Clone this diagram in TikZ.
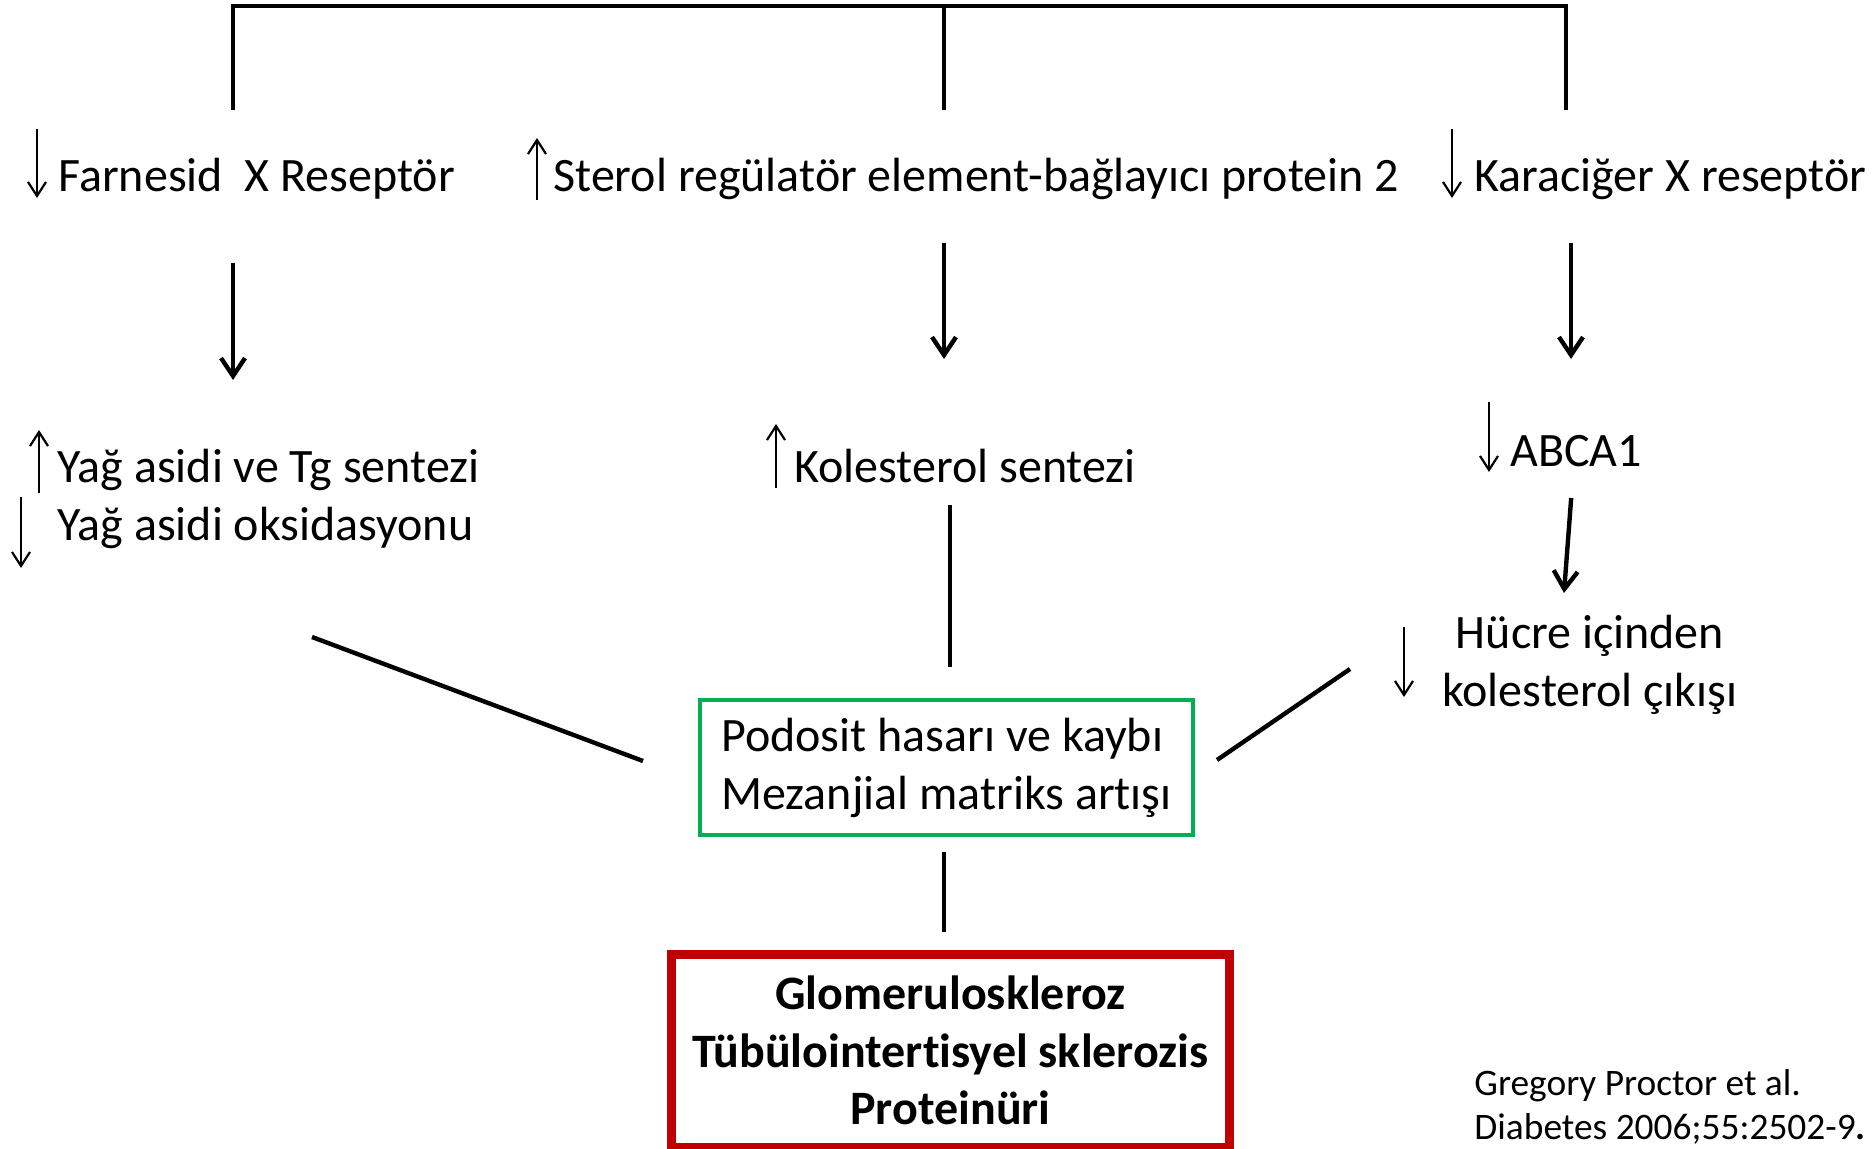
\documentclass[tikz,border=0pt]{standalone}
\usepackage{fontspec}
\setmainfont{Carlito}[Ligatures=NoCommon]
\usetikzlibrary{calc, arrows.meta}
\definecolor{clGreenBd}{RGB}{0,176,80}
\definecolor{clRedBd}  {RGB}{192,0,0}
\tikzset{
  %% plain text
  txt/.style={inner sep=0pt, font=\fontsize{24}{29}\selectfont},
  %% reference text, bottom right
  ref/.style={inner sep=0pt, font=\fontsize{18.7}{21}\selectfont},
  %% framed boxes
  boxGreen/.style={
    rectangle, draw=clGreenBd, line width=2pt, inner sep=0pt,
    minimum width=246.5pt, minimum height=67.5pt,
    align=left, font=\fontsize{24}{29}\selectfont
  },
  boxRed/.style={
    rectangle, draw=clRedBd, line width=4.5pt, inner sep=0pt,
    minimum width=279pt, minimum height=96.25pt,
    align=center, font=\fontsize{24}{28.75}\selectfont\bfseries
  },
  %% connectors
  ln/.style={line width=2.2pt},
  arr/.style={ln, -{Straight Barb[length=9pt, width=12pt]}},
  %% small up / down marks in front of the texts
  sym/.style={line width=1.1pt, -{Straight Barb[length=7pt, width=9pt]}}
}

\begin{document}
\begin{tikzpicture}[x=0.5pt, y=-0.5pt]
\useasboundingbox (0,0) rectangle (1874,1149);

%% ═══════════════════════════════════════════════════════════════
%%  TOP ROW — receptors
%% ═══════════════════════════════════════════════════════════════

\coordinate (bL) at (233,6);
\coordinate (bM) at (944,6);
\coordinate (bR) at (1566,6);

\node[txt, anchor=base west] (fxr)   at (58,192)   {Farnesid\ \ X Reseptör};
\node[txt, anchor=base west] (srebp) at (553,192)  {Sterol regülatör element-bağlayıcı protein 2};
\node[txt, anchor=base west] (lxr)   at (1474,192) {Karaciğer X reseptör};

\draw[sym] ($(fxr.base west)+(-21,-63)$)   -- ++(0,69);
\draw[sym] ($(srebp.base west)+(-16,8)$)   -- ++(0,-62);
\draw[sym] ($(lxr.base west)+(-22,-63)$)   -- ++(0,69);

%% bracket over the three
\draw[ln] (bL) ++(0,104) |- (bR) -- ++(0,104);
\draw[ln] (bM) -- ++(0,104);

%% ═══════════════════════════════════════════════════════════════
%%  MIDDLE ROW — effects
%% ═══════════════════════════════════════════════════════════════

\node[txt, anchor=base west] (yag1) at (57,483)   {Yağ asidi ve Tg sentezi};
\node[txt, anchor=base west] (yag2) at (57,541)   {Yağ asidi oksidasyonu};
\node[txt, anchor=base west] (kol)  at (794,483)  {Kolesterol sentezi};
\node[txt, anchor=base west] (abca) at (1510,467) {ABCA1};
\node[txt, align=center]     (hucre) at (1590,665) {Hücre içinden\\kolesterol çıkışı};

\draw[sym] ($(yag1.base west)+(-18,10)$)  -- ++(0,-63);
\draw[sym] ($(yag2.base west)+(-36,-44)$) -- ++(0,71);
\draw[sym] ($(kol.base west)+(-18,5)$)    -- ++(0,-64);
\draw[sym] ($(abca.base west)+(-21,-65)$) -- ++(0,70);
\draw[sym] ($(hucre.center)+(-186,-38)$)  -- ++(0,70);

\draw[arr] ($(fxr.base -| bL)+(0,71)$)   -- ($(yag1.base -| bL)+(0,-103)$);
\draw[arr] ($(srebp.base -| bM)+(0,51)$) -- ($(kol.base -| bM)+(0,-124)$);
\draw[arr] ($(lxr.base -| bR)+(5,51)$)   -- ($(abca.base -| bR)+(5,-108)$);
\draw[arr] ($(abca.base)+(-5,31)$)       -- ($(hucre.center)+(-26,-72)$);

%% ═══════════════════════════════════════════════════════════════
%%  BOXES
%% ═══════════════════════════════════════════════════════════════

\node[boxGreen] (podo) at (946.5,767.5) {Podosit hasarı ve kaybı\\Mezanjial matriks artışı};
\node[boxRed]   (glom) at (950.5,1050.75)
  {Glomeruloskleroz\\Tübülointertisyel sklerozis\\Proteinüri};

\coordinate (lEnd) at (312,637);
\coordinate (rEnd) at (1350,669);

\draw[ln] ($(kol.base -| podo.north)+(3.5,22)$) -- ($(podo.north)+(3.5,-31)$);
\draw[ln] (lEnd) -- ($(podo.west)+(-55,-6.5)$);
\draw[ln] (rEnd) -- ($(podo.east)+(22,-7.5)$);
\draw[ln] ($(podo.south)+(-2.5,15)$) -- ($(podo.south |- glom.north)+(-2.5,-18)$);

%% reference
\node[ref, anchor=base west] (cite1) at (1474,1095) {Gregory Proctor et al.};
\node[ref, anchor=base west] (cite2) at (1474,1139) {Diabetes 2006;55:2502-9\textbf{.}};

\end{tikzpicture}
\end{document}
